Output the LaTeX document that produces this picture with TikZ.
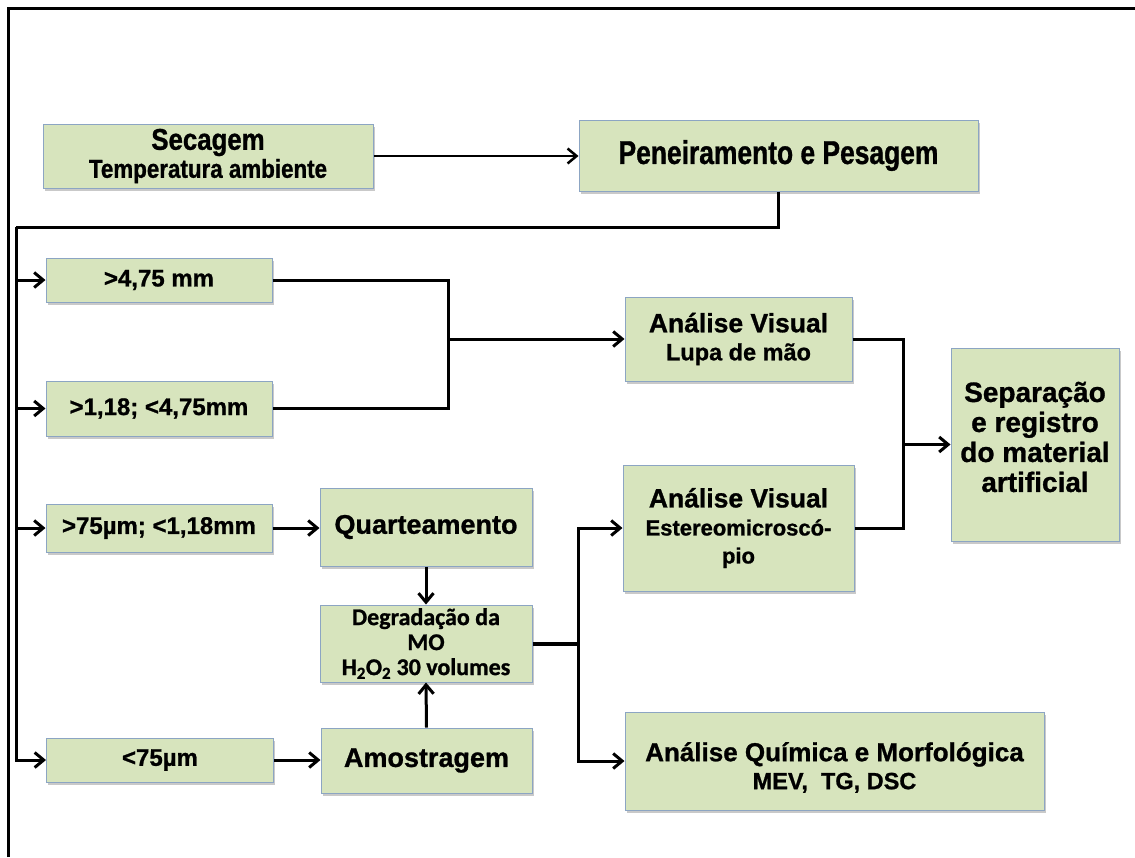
\documentclass[tikz,border=0pt]{standalone}
\usepackage{fontspec}
\setmainfont{Liberation Sans}[BoldFeatures={FakeBold=1}]
\newfontfamily\condfont{Liberation Sans}[FakeStretch=0.86,BoldFeatures={FakeBold=1}]
\newfontfamily\pencondfont{Liberation Sans}[FakeStretch=0.8,BoldFeatures={FakeBold=1}]
\newfontfamily\calfont{Carlito}[BoldFeatures={FakeBold=1}]
\usetikzlibrary{arrows.meta,shadows}
\definecolor{boxfill}{RGB}{215,228,189}
\definecolor{boxline}{RGB}{140,165,195}
\newcommand{\fsz}[2]{\fontsize{#1}{#2}\selectfont}
\tikzset{
  box/.style={draw=boxline, line width=1pt, fill=boxfill, align=center, inner sep=0pt,
    font=\bfseries\fsz{24}{28},
    drop shadow={shadow xshift=1.5pt, shadow yshift=-2.5pt, opacity=0.35, fill=black!60}},
  boxtext/.style={align=center, inner sep=0pt, font=\bfseries\fsz{28}{30}},
  conn/.style={line width=3pt, draw=black},
  arr/.style={conn, -{Straight Barb[length=9pt,width=15pt]}},
  frame/.style={line width=3pt, draw=black}
}
\begin{document}
\begin{tikzpicture}[x=1pt,y=-1pt]
\useasboundingbox (0,0) rectangle (1135,857);
\fill[white] (0,0) rectangle (1135,857);
\draw[frame] (8,857) -- (8,8) -- (1135,8);

% boxes
\node[box, minimum width=330, minimum height=64] (sec) at (208,156)
  {{\condfont\fsz{30}{28}Secagem}\\{\condfont\fsz{26}{28}Temperatura ambiente}};
\node[box, minimum width=399, minimum height=71, font=\bfseries\pencondfont\fsz{33}{36}] (pen) at (778.5,155.5)
  {Peneiramento e Pesagem};
\node[box, minimum width=226, minimum height=44] (b1) at (159,280) {>4,75 mm};
\node[box, minimum width=226, minimum height=55] (b2) at (159,408.5) {>1,18; <4,75mm};
\node[box, minimum width=226, minimum height=48] (b3) at (159,528) {>75µm; <1,18mm};
\node[box, minimum width=227, minimum height=44] (b4) at (160,760) {<75µm};
\node[box, minimum width=212, minimum height=78, font=\bfseries\fsz{27}{30}] (quart) at (426,527) {Quarteamento};
\node[box, minimum width=212, minimum height=77, font=\bfseries\calfont\fsz{24}{25}] (deg) at (426,643.5)
  {Degradação da\\MO\\H\textsubscript{2}O\textsubscript{2} 30 volumes};
\node[box, minimum width=211, minimum height=65, font=\bfseries\fsz{27}{30}] (amo) at (426.5,760.5) {Amostragem};
\node[box, minimum width=227, minimum height=84] (lupa) at (738.5,339)
  {{\fsz{26.5}{30}Análise Visual}\\{\fsz{23.5}{30}Lupa de mão}};
\node[box, minimum width=231, minimum height=126] (est) at (738.5,528)
  {{\fsz{26.5}{24}Análise Visual}\\{\fsz{22}{23}Estereomicroscó-}\\{\fsz{22}{22}pio}};
\node[box, minimum width=168, minimum height=193] (sep) at (1035,444.5) {};
\node[boxtext] (septxt) at (1035,437) {Separação\\e registro\\do material\\artificial};
\node[box, minimum width=419, minimum height=98] (quim) at (834.5,761)
  {{\fsz{26}{31}\rule{0pt}{32pt}Análise Química e Morfológica}\\{\fsz{23.5}{31}MEV,\ \ TG, DSC}};

% connectors
\draw[arr, line width=2.5pt] (sec.east) -- (sec.east -| pen.west);
\coordinate (bt) at (16,227);
\draw[conn] (pen.south) |- (bt);
\draw[arr] (bt) |- (b4.west);
\draw[arr] (bt |- b1.west) -- (b1.west);
\draw[arr] (bt |- b2.west) -- (b2.west);
\draw[arr] (bt |- b3.west) -- (b3.west);

\coordinate (j1) at (448,339);
\draw[conn] (b1.east) -| (j1) |- (b2.east);
\draw[arr] (j1) -- (lupa.west |- j1);

\draw[arr] (b3.east) -- (quart.west |- b3.east);
\draw[arr] (b4.east) -- (amo.west |- b4.east);
\draw[arr] (quart.south) -- (deg.north);
\draw[arr] (amo.north) -- (deg.south);

\coordinate (j2) at (578,643.5);
\draw[conn, line width=4pt] (deg.east) -- (j2);
\draw[arr] (j2) |- (est.west);
\draw[arr] (j2) |- (quim.west);

\coordinate (j3) at (903,444.5);
\draw[conn] (lupa.east) -| (j3) |- (est.east);
\draw[arr] (j3) -- (sep.west);
\end{tikzpicture}
\end{document}
